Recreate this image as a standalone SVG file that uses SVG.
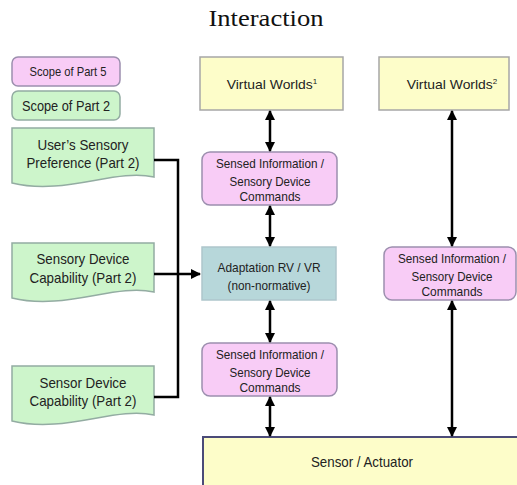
<svg xmlns="http://www.w3.org/2000/svg" width="517" height="485" viewBox="0 0 517 485">
<style>
.t{font-family:"Liberation Sans",Arial,sans-serif;font-size:13.5px;fill:#222;text-anchor:middle}
.pink{fill:#f8ccf6;stroke:#9c8fae;stroke-width:1.5}
.green{fill:#cdf5cb;stroke:#93aca2;stroke-width:1.5}
.yellow{fill:#fdfdc9;stroke:#a6a6a6;stroke-width:1.5}
.teal{fill:#b7d7da;stroke:#aec6cc;stroke-width:1.5}
.c{fill:none;stroke:#000;stroke-width:2.5}
</style>
<defs>
<marker id="ah" viewBox="0 0 10 10" refX="9" refY="5" markerWidth="4" markerHeight="4" orient="auto-start-reverse" markerUnits="strokeWidth">
<path d="M0,0 L10,5 L0,10 Z" fill="#000"/>
</marker>
</defs>
<rect width="517" height="485" fill="#fff"/>
<text x="266" y="26" textLength="115" lengthAdjust="spacingAndGlyphs" style="font-family:'Liberation Serif','DejaVu Serif',serif;font-size:24px;fill:#111;text-anchor:middle">Interaction</text>

<g id="legend-part5"><rect class="pink" x="12" y="57" width="108" height="29" rx="6"/><text class="t" x="68" y="76" textLength="77" lengthAdjust="spacingAndGlyphs">Scope of Part 5</text></g>
<g id="legend-part2"><rect class="green" x="12" y="91" width="108" height="29" rx="6"/><text class="t" x="66" y="111" textLength="88" lengthAdjust="spacingAndGlyphs" style="font-size:14px">Scope of Part 2</text></g>

<g id="user-pref"><path class="green" d="M12,128 H154 V177 C115,168 65,196 12,183 Z"/><text class="t" x="83" y="150" textLength="91" lengthAdjust="spacingAndGlyphs" style="font-size:14.5px">User’s Sensory</text><text class="t" x="83" y="168" textLength="113" lengthAdjust="spacingAndGlyphs" style="font-size:14.5px">Preference (Part 2)</text></g>
<g id="sensory-cap"><path class="green" d="M12,243 H154 V292 C115,283 65,311 12,298 Z"/><text class="t" x="83" y="264" textLength="93" lengthAdjust="spacingAndGlyphs" style="font-size:14.5px">Sensory Device</text><text class="t" x="83" y="283" textLength="107" lengthAdjust="spacingAndGlyphs" style="font-size:14.5px">Capability (Part 2)</text></g>
<g id="sensor-cap"><path class="green" d="M12,366 H154 V415 C115,406 65,434 12,421 Z"/><text class="t" x="83" y="388" textLength="87" lengthAdjust="spacingAndGlyphs" style="font-size:14.5px">Sensor Device</text><text class="t" x="83" y="406" textLength="107" lengthAdjust="spacingAndGlyphs" style="font-size:14.5px">Capability (Part 2)</text></g>

<g id="vw1"><rect class="yellow" x="200" y="57" width="143" height="53"/><text class="t" x="272" y="89"><tspan textLength="86" lengthAdjust="spacingAndGlyphs">Virtual Worlds</tspan><tspan dy="-5" style="font-size:8px">1</tspan></text></g>
<g id="vw2"><rect class="yellow" x="379" y="57" width="130" height="53"/><text class="t" x="452" y="89"><tspan textLength="86" lengthAdjust="spacingAndGlyphs">Virtual Worlds</tspan><tspan dy="-5" style="font-size:8px">2</tspan></text></g>

<g id="sensed-top"><rect class="pink" x="202" y="152" width="135" height="53" rx="8"/><text class="t" x="270" y="168" textLength="108" lengthAdjust="spacingAndGlyphs">Sensed Information /</text><text class="t" x="270" y="186" textLength="81" lengthAdjust="spacingAndGlyphs">Sensory Device</text><text class="t" x="270" y="201" textLength="61" lengthAdjust="spacingAndGlyphs">Commands</text></g>
<g id="adaptation"><rect class="teal" x="202" y="247" width="134" height="53"/><text class="t" x="269" y="272" textLength="103" lengthAdjust="spacingAndGlyphs">Adaptation RV / VR</text><text class="t" x="269" y="290" textLength="83" lengthAdjust="spacingAndGlyphs">(non-normative)</text></g>
<g id="sensed-bottom"><rect class="pink" x="202" y="343" width="135" height="53" rx="8"/><text class="t" x="270" y="359" textLength="108" lengthAdjust="spacingAndGlyphs">Sensed Information /</text><text class="t" x="270" y="377" textLength="81" lengthAdjust="spacingAndGlyphs">Sensory Device</text><text class="t" x="270" y="392" textLength="61" lengthAdjust="spacingAndGlyphs">Commands</text></g>
<g id="sensed-right"><rect class="pink" x="384" y="247" width="132" height="53" rx="8"/><text class="t" x="452" y="263" textLength="108" lengthAdjust="spacingAndGlyphs">Sensed Information /</text><text class="t" x="452" y="281" textLength="81" lengthAdjust="spacingAndGlyphs">Sensory Device</text><text class="t" x="452" y="296" textLength="61" lengthAdjust="spacingAndGlyphs">Commands</text></g>
<g id="sensor-actuator"><rect x="203" y="437" width="330" height="60" fill="#fdfdc9" stroke="#4b4b78" stroke-width="2"/><text class="t" x="362" y="467" textLength="102" lengthAdjust="spacingAndGlyphs" style="font-size:14.5px">Sensor / Actuator</text></g>

<g id="connectors">
<path class="c" d="M154,160 H178 V397 H154"/>
<path class="c" d="M154,274 H200" marker-end="url(#ah)"/>
<path class="c" d="M270,111 V151" marker-start="url(#ah)" marker-end="url(#ah)"/>
<path class="c" d="M270,206 V246" marker-start="url(#ah)" marker-end="url(#ah)"/>
<path class="c" d="M270,301 V342" marker-start="url(#ah)" marker-end="url(#ah)"/>
<path class="c" d="M270,397 V436" marker-start="url(#ah)" marker-end="url(#ah)"/>
<path class="c" d="M452,111 V246" marker-start="url(#ah)" marker-end="url(#ah)"/>
<path class="c" d="M452,301 V436" marker-start="url(#ah)" marker-end="url(#ah)"/>
</g>
</svg>
